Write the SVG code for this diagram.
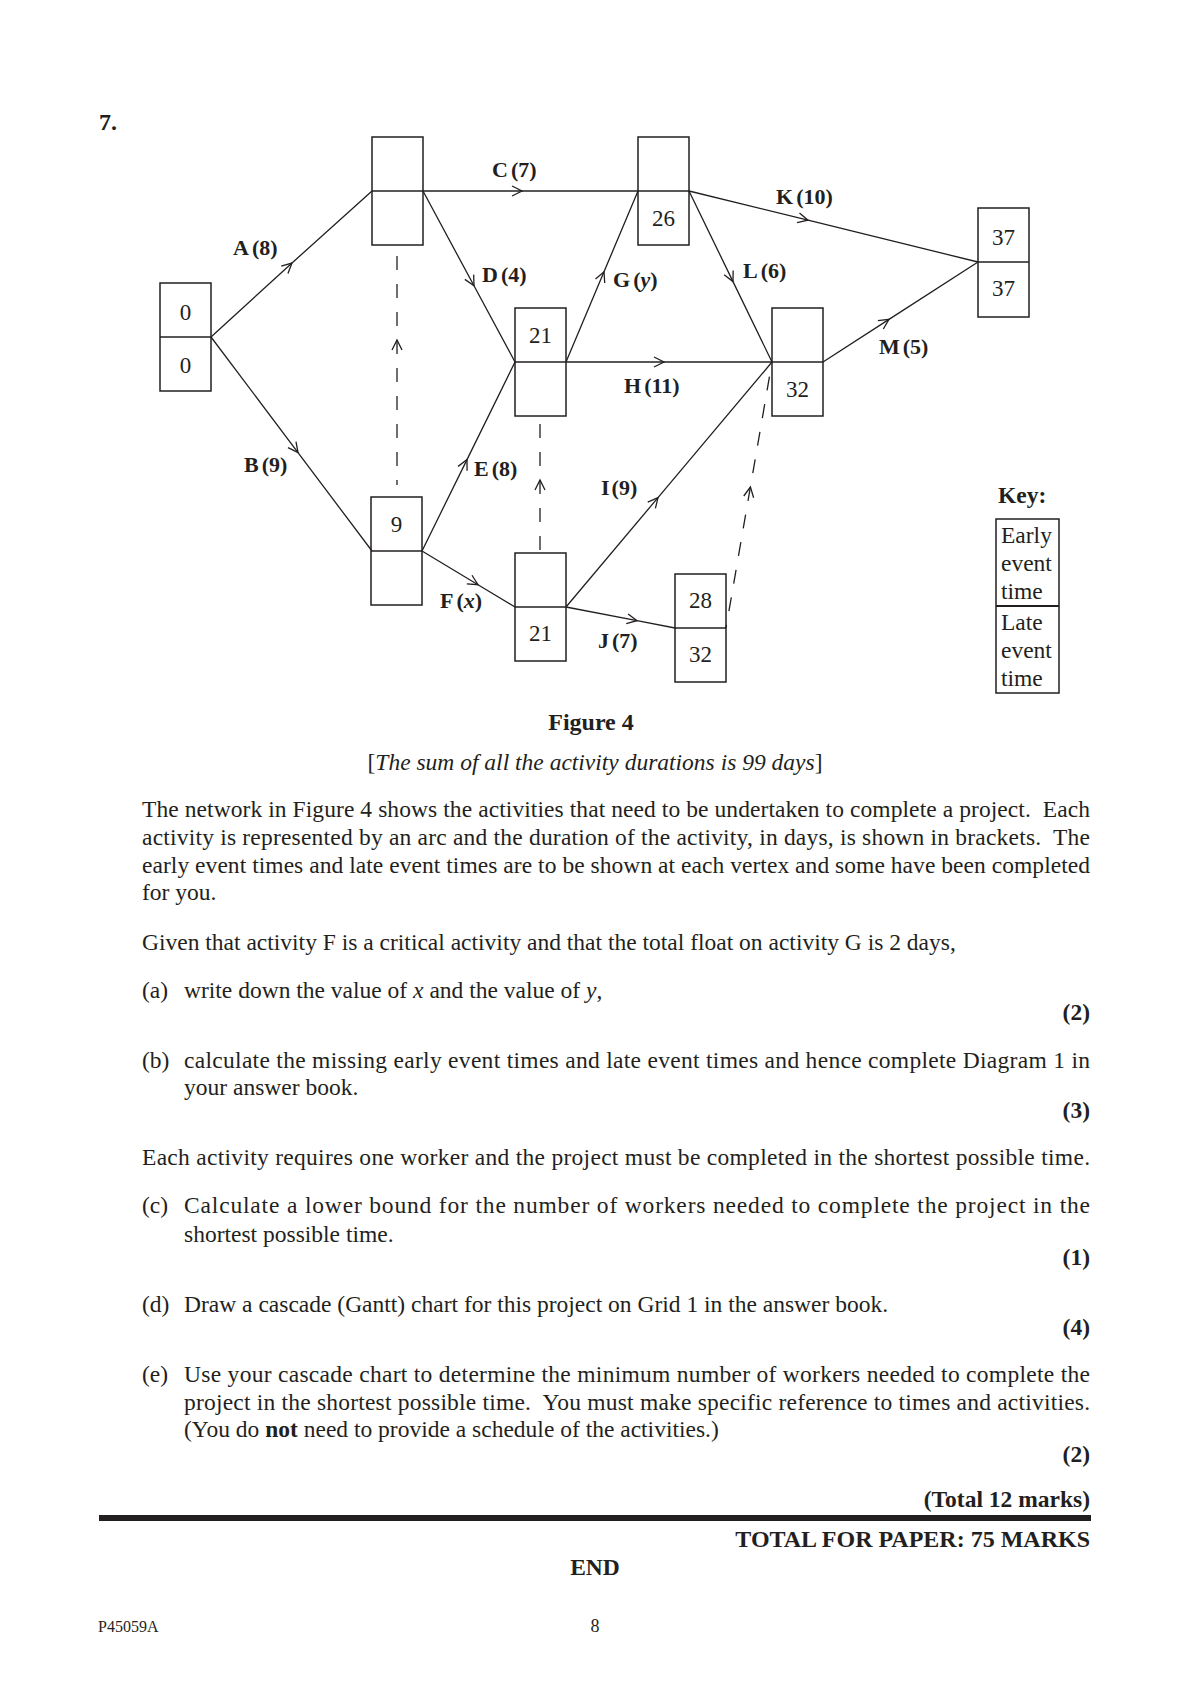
<svg xmlns="http://www.w3.org/2000/svg" width="1190" height="1684" viewBox="0 0 1190 1684">
<style>
text{font-family:"Liberation Serif","Times New Roman",serif;fill:#231f20;white-space:pre}
.box{fill:none;stroke:#231f20;stroke-width:1.5}
.edge{fill:none;stroke:#231f20;stroke-width:1.3;marker-mid:url(#arr)}
.dummy{stroke-dasharray:14 14}
.num{font-size:23px;text-anchor:middle}
.lbl{font-size:22px;font-weight:bold}
.body{font-size:23.5px}
.mk{font-size:23.5px;font-weight:bold;text-anchor:end}
.key{font-size:23.5px}
</style>
<defs>
<marker id="arr" markerUnits="userSpaceOnUse" markerWidth="12" markerHeight="12" refX="0" refY="0" orient="auto" overflow="visible">
<path d="M -10 -5 L 0 0 L -10 5" fill="none" stroke="#231f20" stroke-width="1.3"/>
</marker>
</defs>
<text x="99" y="130" style="font-size:24px;font-weight:bold">7.</text>

<g id="connectors">
<path id="eA" class="edge" d="M211 337 L292 263 L372 191"/>
<path id="eB" class="edge" d="M211 337 L298 452.6 L372 551"/>
<path id="eC" class="edge" d="M423 191 L522 191 L638 191"/>
<path id="eD" class="edge" d="M423 191 L474 285.8 L515 362"/>
<path id="eE" class="edge" d="M422 551 L467 459.6 L515 362"/>
<path id="eF" class="edge" d="M422 551 L478 584.7 L515 607"/>
<path id="eG" class="edge" d="M566 362 L604 271.8 L638 191"/>
<path id="eH" class="edge" d="M566 362 L664 362 L772 362"/>
<path id="eI" class="edge" d="M566 607 L658 497.6 L772 362"/>
<path id="eJ" class="edge" d="M566 607 L637 620.7 L675 628"/>
<path id="eK" class="edge" d="M689 191 L808 220.2 L978 262"/>
<path id="eL" class="edge" d="M689 191 L733 281.6 L772 362"/>
<path id="eM" class="edge" d="M823 362 L889 319.4 L978 262"/>
<path id="d1" class="edge dummy" style="stroke-dashoffset:9" d="M397 485 L397 340 L397 247"/>
<path id="d2" class="edge dummy" style="stroke-dashoffset:25" d="M540 553 L540 480 L540 415"/>
<path id="d3" class="edge dummy" style="stroke-dashoffset:10.9" d="M726 628 L750.4 487 L772 362"/>
<text class="lbl" x="233" y="255">A<tspan dx="3">(8)</tspan></text>
<text class="lbl" x="244" y="472">B<tspan dx="3">(9)</tspan></text>
<text class="lbl" x="492" y="177">C<tspan dx="3">(7)</tspan></text>
<text class="lbl" x="482" y="282">D<tspan dx="3">(4)</tspan></text>
<text class="lbl" x="474" y="476">E<tspan dx="3">(8)</tspan></text>
<text class="lbl" x="440" y="608">F<tspan dx="3">(</tspan><tspan font-style="italic">x</tspan>)</text>
<text class="lbl" x="613" y="287">G<tspan dx="3">(</tspan><tspan font-style="italic">y</tspan>)</text>
<text class="lbl" x="624" y="393">H<tspan dx="3">(11)</tspan></text>
<text class="lbl" x="601" y="495">I<tspan dx="2">(9)</tspan></text>
<text class="lbl" x="598" y="648">J<tspan dx="3">(7)</tspan></text>
<text class="lbl" x="776" y="204">K<tspan dx="3">(10)</tspan></text>
<text class="lbl" x="743" y="278">L<tspan dx="3">(6)</tspan></text>
<text class="lbl" x="879" y="354">M<tspan dx="3">(5)</tspan></text>
</g>

<g id="n1"><rect class="box" x="160" y="283" width="51" height="108"/><line class="box" x1="160" y1="337" x2="211" y2="337"/><text class="num" x="185.5" y="320">0</text><text class="num" x="185.5" y="373">0</text></g>
<g id="n2"><rect class="box" x="372" y="137" width="51" height="108"/><line class="box" x1="372" y1="191" x2="423" y2="191"/></g>
<g id="n3"><rect class="box" x="515" y="308" width="51" height="108"/><line class="box" x1="515" y1="362" x2="566" y2="362"/><text class="num" x="540.5" y="343">21</text></g>
<g id="n4"><rect class="box" x="638" y="137" width="51" height="108"/><line class="box" x1="638" y1="191" x2="689" y2="191"/><text class="num" x="663.5" y="226">26</text></g>
<g id="n5"><rect class="box" x="772" y="308" width="51" height="108"/><line class="box" x1="772" y1="362" x2="823" y2="362"/><text class="num" x="797.5" y="397">32</text></g>
<g id="n6"><rect class="box" x="978" y="208" width="51" height="109"/><line class="box" x1="978" y1="262" x2="1029" y2="262"/><text class="num" x="1003.5" y="245">37</text><text class="num" x="1003.5" y="296">37</text></g>
<g id="n7"><rect class="box" x="371" y="497" width="51" height="108"/><line class="box" x1="371" y1="551" x2="422" y2="551"/><text class="num" x="396.5" y="532">9</text></g>
<g id="n8"><rect class="box" x="515" y="553" width="51" height="108"/><line class="box" x1="515" y1="607" x2="566" y2="607"/><text class="num" x="540.5" y="641">21</text></g>
<g id="n9"><rect class="box" x="675" y="574" width="51" height="108"/><line class="box" x1="675" y1="628" x2="726" y2="628"/><text class="num" x="700.5" y="608">28</text><text class="num" x="700.5" y="662">32</text></g>

<g id="key">
<text x="998" y="503" style="font-size:23.5px;font-weight:bold">Key:</text>
<rect class="box" x="996" y="519" width="63" height="174"/>
<line x1="996" y1="606" x2="1059" y2="606" stroke="#231f20" stroke-width="2"/>
<text class="key" x="1001" y="543">Early</text>
<text class="key" x="1001" y="571">event</text>
<text class="key" x="1001" y="599">time</text>
<text class="key" x="1001" y="630">Late</text>
<text class="key" x="1001" y="658">event</text>
<text class="key" x="1001" y="686">time</text>
</g>

<text x="591" y="730" text-anchor="middle" style="font-size:24px;font-weight:bold">Figure 4</text>
<text x="595" y="770" text-anchor="middle" class="body">[<tspan font-style="italic">The sum of all the activity durations is 99 days</tspan>]</text>

<text class="body" x="142" y="817" textLength="948" lengthAdjust="spacing">The network in Figure 4 shows the activities that need to be undertaken to complete a project.  Each</text>
<text class="body" x="142" y="845" textLength="948" lengthAdjust="spacing">activity is represented by an arc and the duration of the activity, in days, is shown in brackets.  The</text>
<text class="body" x="142" y="873" textLength="948" lengthAdjust="spacing">early event times and late event times are to be shown at each vertex and some have been completed</text>
<text class="body" x="142" y="900">for you.</text>
<text class="body" x="142" y="950">Given that activity F is a critical activity and that the total float on activity G is 2 days,</text>
<text class="body" x="142" y="998">(a)</text>
<text class="body" x="184" y="998">write down the value of <tspan font-style="italic">x</tspan> and the value of <tspan font-style="italic">y</tspan>,</text>
<text class="mk" x="1090" y="1020">(2)</text>
<text class="body" x="142" y="1068">(b)</text>
<text class="body" x="184" y="1068" textLength="906" lengthAdjust="spacing">calculate the missing early event times and late event times and hence complete Diagram 1 in</text>
<text class="body" x="184" y="1095">your answer book.</text>
<text class="mk" x="1090" y="1118">(3)</text>
<text class="body" x="142" y="1165" textLength="948" lengthAdjust="spacing">Each activity requires one worker and the project must be completed in the shortest possible time.</text>
<text class="body" x="142" y="1213">(c)</text>
<text class="body" x="184" y="1213" textLength="906" lengthAdjust="spacing">Calculate a lower bound for the number of workers needed to complete the project in the</text>
<text class="body" x="184" y="1242">shortest possible time.</text>
<text class="mk" x="1090" y="1265">(1)</text>
<text class="body" x="142" y="1312">(d)</text>
<text class="body" x="184" y="1312">Draw a cascade (Gantt) chart for this project on Grid 1 in the answer book.</text>
<text class="mk" x="1090" y="1335">(4)</text>
<text class="body" x="142" y="1382">(e)</text>
<text class="body" x="184" y="1382" textLength="906" lengthAdjust="spacing">Use your cascade chart to determine the minimum number of workers needed to complete the</text>
<text class="body" x="184" y="1410" textLength="906" lengthAdjust="spacing">project in the shortest possible time.  You must make specific reference to times and activities.</text>
<text class="body" x="184" y="1437">(You do <tspan font-weight="bold">not</tspan> need to provide a schedule of the activities.)</text>
<text class="mk" x="1090" y="1462">(2)</text>
<text class="mk" x="1090" y="1507">(Total 12 marks)</text>
<rect x="99" y="1515" width="992" height="6" fill="#231f20"/>
<text class="mk" x="1090" y="1547" style="font-size:24px">TOTAL FOR PAPER: 75 MARKS</text>
<text x="595" y="1575" text-anchor="middle" style="font-size:23.5px;font-weight:bold">END</text>
<text x="98" y="1632" style="font-size:16px">P45059A</text>
<text x="595" y="1632" text-anchor="middle" style="font-size:18px">8</text>
</svg>
